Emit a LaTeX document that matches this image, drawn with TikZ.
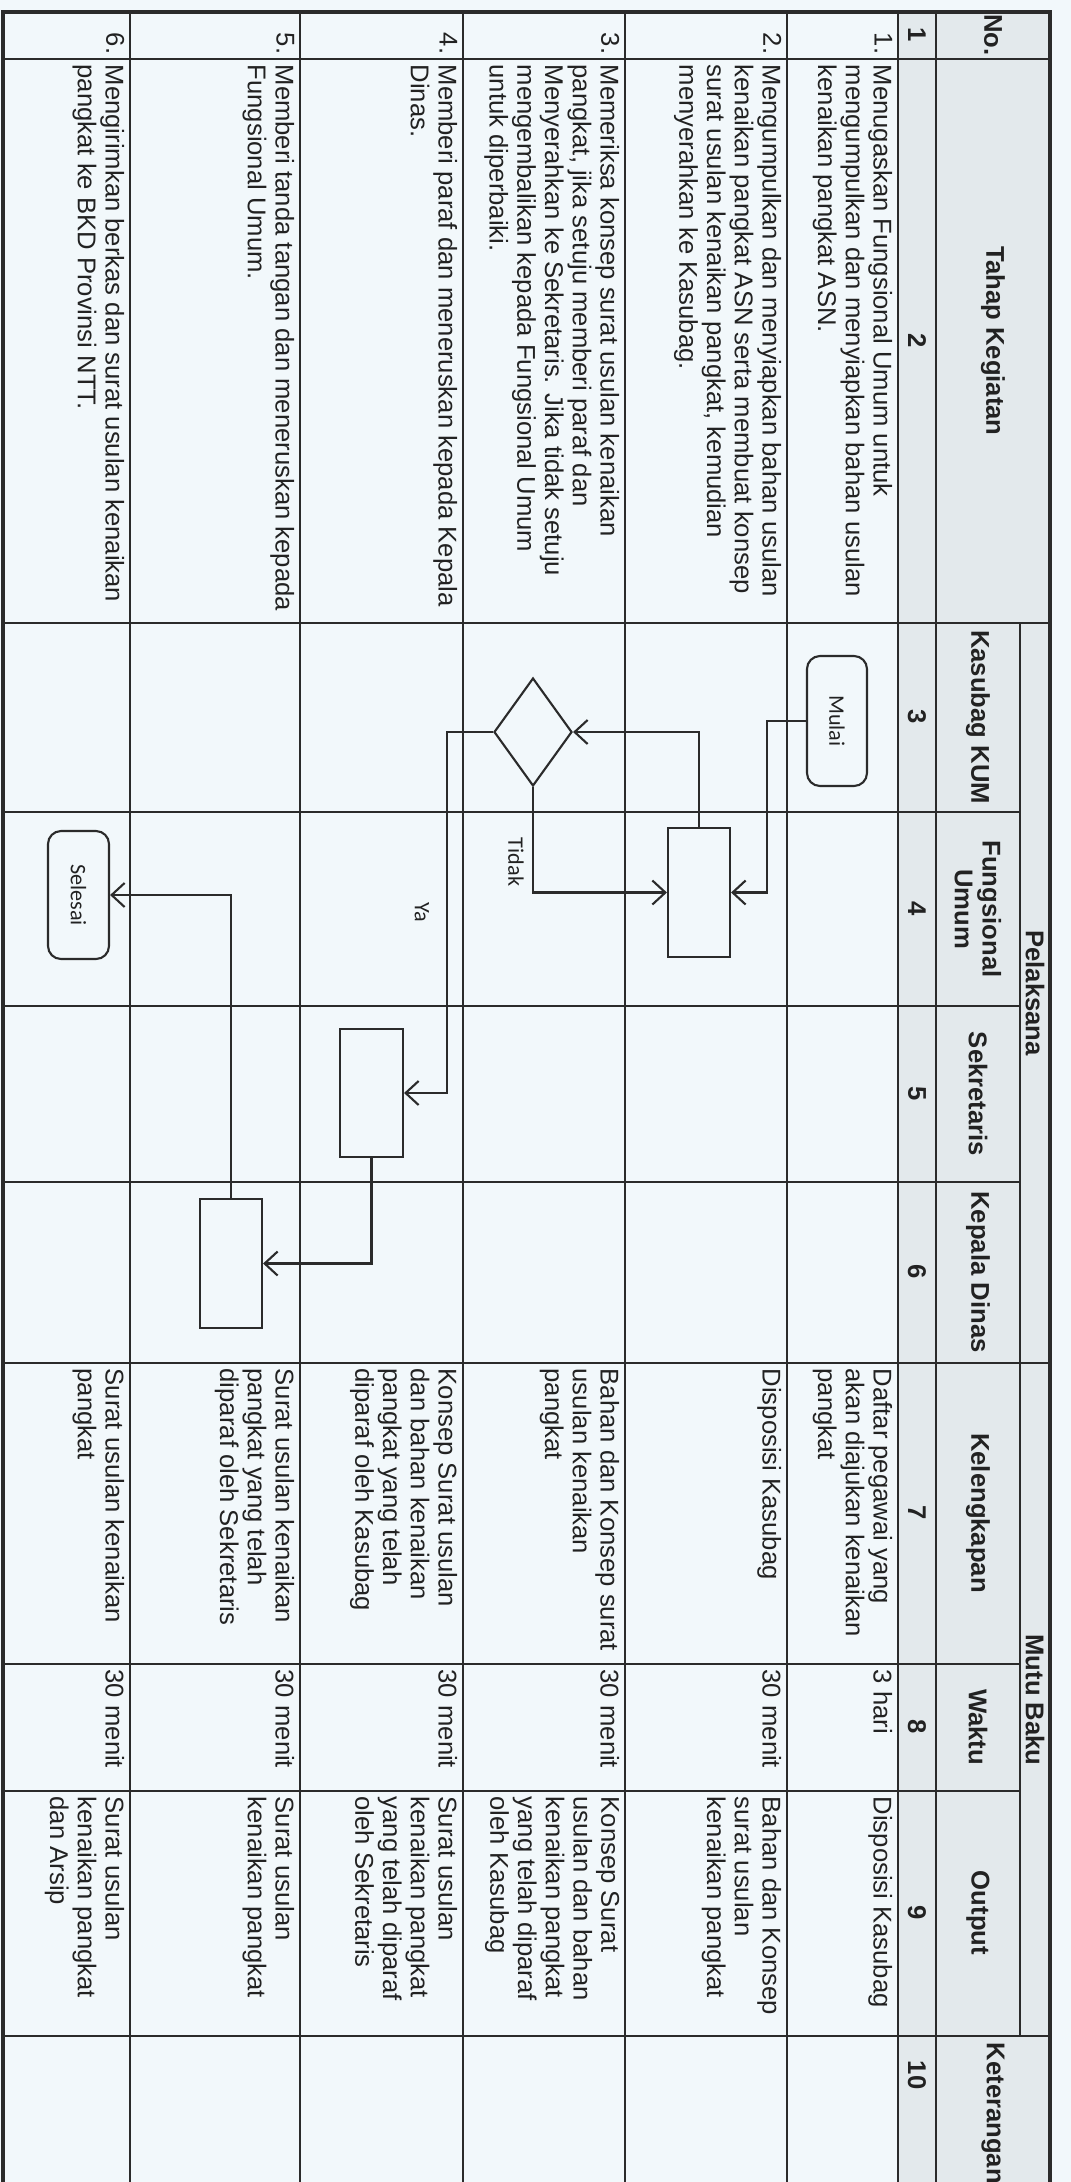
\documentclass[tikz,border=0pt]{standalone}
\usepackage{fontspec}
\setmainfont{Liberation Sans}
\newfontfamily\boxfont{Carlito}
\usetikzlibrary{arrows.meta,shapes.geometric}
\definecolor{paper}{HTML}{F2F8FB}
\definecolor{headgray}{HTML}{E3E9EC}
\definecolor{ink}{HTML}{222222}
\definecolor{rule}{HTML}{2B2B2B}
\newcommand{\sop}{\fontsize{7.3}{7.9}\selectfont}
\newcommand{\sopb}{\fontsize{7.3}{7.9}\selectfont\bfseries}
\newcommand{\flowtext}{\boxfont\fontsize{6.3}{7}\selectfont}

\begin{document}
\begin{tikzpicture}[x=0.1mm,y=-0.1mm,
  grid/.style={draw=rule,line width=0.6pt},
  frame/.style={draw=rule,line width=1.2pt},
  cell/.style={rotate=-90,anchor=north west,align=left,inner sep=0pt,text=ink,font=\sop},
  num/.style={rotate=-90,anchor=north east,inner sep=0pt,text=ink,font=\sop},
  head/.style={rotate=-90,align=center,inner sep=0pt,text=ink,font=\sopb},
  task/.style={draw=rule,line width=0.6pt,fill=paper,inner sep=0pt},
  term/.style={task,rounded corners=1.3mm,rotate=-90,font=\flowtext,text=ink},
  flow/.style={draw=rule,line width=0.6pt,-{Straight Barb[length=1.3mm,width=2.4mm]}},
  lbl/.style={rotate=-90,inner sep=0pt,text=ink,font=\flowtext}]
\useasboundingbox (0,0) rectangle (1071,2182);
\fill[paper] (0,0) rectangle (1071,2182);
\fill[headgray] (898,12) rectangle (1050,2182);
% table grid
\foreach \r in {130,300,463,625,787} \draw[grid] (\r,12) -- (\r,2182);
\draw[grid,line width=0.8pt] (898,12) -- (898,2182);
\draw[grid,line width=0.8pt] (936,12) -- (936,2182);
\foreach \c in {59,623,1363,2036} \draw[grid] (3,\c) -- (1050,\c);
\foreach \c in {812,1006,1182,1664,1791} \draw[grid] (3,\c) -- (1020,\c);
\draw[grid] (1020,623) -- (1020,2036);
\draw[frame] (3,2182) -- (3,12) -- (1050,12) -- (1050,2182);
% header
\node[head] (hno) at (993,35) {No.};
\node[head] (htahap) at (993,341) {Tahap Kegiatan};
\node[head] (hpel) at (1035,993) {Pelaksana};
\node[head] (hmutu) at (1035,1700) {Mutu Baku};
\node[head] (hkum) at (978,717) {Kasubag KUM};
\node[head] (hfu) at (978,909) {Fungsional\\Umum};
\node[head] (hsek) at (978,1094) {Sekretaris};
\node[head] (hkd) at (978,1272) {Kepala Dinas};
\node[head] (hkel) at (978,1513) {Kelengkapan};
\node[head] (hwkt) at (978,1727) {Waktu};
\node[head] (hout) at (978,1913) {Output};
\node[head,anchor=west] (hket) at (993,2042) {Keterangan};
\foreach \yy/\t in {35/1,341/2,717/3,909/4,1094/5,1272/6,1513/7,1727/8,1913/9,2075/10}
  \node[head] (n\t) at (917,\yy) {\t};
% row 1
\node[num] (no1) at (893,55) {1.};
\node[cell] (tk1) at (893,64) {Menugaskan Fungsional Umum untuk\\mengumpulkan dan menyiapkan bahan usulan\\kenaikan pangkat ASN.};
\node[cell] (kl1) at (893,1368) {Daftar pegawai yang\\akan diajukan kenaikan\\pangkat};
\node[cell] (wk1) at (893,1669) {3 hari};
\node[cell] (op1) at (893,1796) {Disposisi Kasubag};
% row 2
\node[num] (no2) at (782,55) {2.};
\node[cell] (tk2) at (782,64) {Mengumpulkan dan menyiapkan bahan usulan\\kenaikan pangkat ASN serta membuat konsep\\surat usulan kenaikan pangkat, kemudian\\menyerahkan ke Kasubag.};
\node[cell] (kl2) at (782,1368) {Disposisi Kasubag};
\node[cell] (wk2) at (782,1669) {30 menit};
\node[cell] (op2) at (782,1796) {Bahan dan Konsep\\surat usulan\\kenaikan pangkat};
% row 3
\node[num] (no3) at (620,55) {3.};
\node[cell] (tk3) at (620,64) {Memeriksa konsep surat usulan kenaikan\\pangkat, jika setuju memberi paraf dan\\Menyerahkan ke Sekretaris. Jika tidak setuju\\mengembalikan kepada Fungsional Umum\\untuk diperbaiki.};
\node[cell] (kl3) at (620,1368) {Bahan dan Konsep surat\\usulan kenaikan\\pangkat};
\node[cell] (wk3) at (620,1669) {30 menit};
\node[cell] (op3) at (620,1796) {Konsep Surat\\usulan dan bahan\\kenaikan pangkat\\yang telah diparaf\\oleh Kasubag};
% row 4
\node[num] (no4) at (458,55) {4.};
\node[cell] (tk4) at (458,64) {Memberi paraf dan meneruskan kepada Kepala\\Dinas.};
\node[cell] (kl4) at (458,1368) {Konsep Surat usulan\\dan bahan kenaikan\\pangkat yang telah\\diparaf oleh Kasubag};
\node[cell] (wk4) at (458,1669) {30 menit};
\node[cell] (op4) at (458,1796) {Surat usulan\\kenaikan pangkat\\yang telah diparaf\\oleh Sekretaris};
% row 5
\node[num] (no5) at (295,55) {5.};
\node[cell] (tk5) at (295,64) {Memberi tanda tangan dan meneruskan kepada\\Fungsional Umum.};
\node[cell] (kl5) at (295,1368) {Surat usulan kenaikan\\pangkat yang telah\\diparaf oleh Sekretaris};
\node[cell] (wk5) at (295,1669) {30 menit};
\node[cell] (op5) at (295,1796) {Surat usulan\\kenaikan pangkat};
% row 6
\node[num] (no6) at (125,55) {6.};
\node[cell] (tk6) at (125,64) {Mengirimkan berkas dan surat usulan kenaikan\\pangkat ke BKD Provinsi NTT.};
\node[cell] (kl6) at (125,1368) {Surat usulan kenaikan\\pangkat};
\node[cell] (wk6) at (125,1669) {30 menit};
\node[cell] (op6) at (125,1796) {Surat usulan\\kenaikan pangkat\\dan Arsip};
% flow
\node[term,minimum width=1.30cm,minimum height=0.60cm] (mulai) at (837,721) {Mulai};
\node[task,minimum width=0.62cm,minimum height=1.29cm] (siapkan) at (699,892.5) {};
\node[task,diamond,minimum width=0.78cm,minimum height=1.08cm] (cek) at (533,732) {};
\node[task,minimum width=0.63cm,minimum height=1.28cm] (parafsek) at (371.5,1093) {};
\node[task,minimum width=0.62cm,minimum height=1.29cm] (ttd) at (231,1263.5) {};
\node[term,minimum width=1.28cm,minimum height=0.61cm] (selesai) at (78.5,895) {Selesai};
\draw[flow] (mulai.south) -- ++(-39,0) |- (siapkan.east);
\draw[flow] (siapkan.north) |- (cek.east);
\draw[flow] (cek.south) |- (siapkan.west);
\draw[flow] (cek.west) -- ++(-46,0) |- (parafsek.east);
\draw[flow] (parafsek.south) |- (ttd.east);
\draw[flow] (ttd.north) |- (selesai.north);
\node[lbl] (tidak) at (516,862) {Tidak};
\node[lbl] (ya) at (422,912) {Ya};
\end{tikzpicture}
\end{document}
